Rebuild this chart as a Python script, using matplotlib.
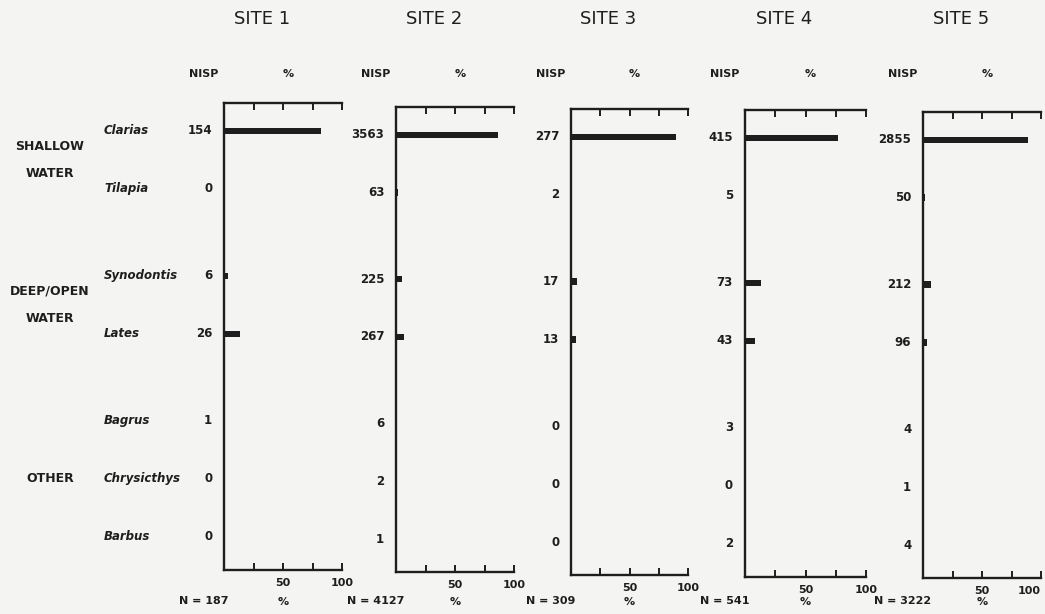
import numpy as np
import matplotlib.pyplot as plt
from matplotlib.transforms import blended_transform_factory


# fish taxa, grouped by habitat
species = ['Clarias', 'Tilapia', 'Synodontis', 'Lates', 'Bagrus', 'Chrysicthys', 'Barbus']
group_names = ['SHALLOW\nWATER', 'DEEP/OPEN\nWATER', 'OTHER']
group_sizes = [2, 2, 3]

site_names = ['SITE 1', 'SITE 2', 'SITE 3', 'SITE 4', 'SITE 5']

# NISP per taxon for each site (same order as species)
nisp_site1 = [154, 0, 6, 26, 1, 0, 0]
nisp_site2 = [3563, 63, 225, 267, 6, 2, 1]
nisp_site3 = [277, 2, 17, 13, 0, 0, 0]
nisp_site4 = [415, 5, 73, 43, 3, 0, 2]
nisp_site5 = [2855, 50, 212, 96, 4, 1, 4]
n_total = [187, 4127, 309, 541, 3222]

W, H = 1045, 614
ink = '#1e1e1e'
paper = '#f4f4f2'

# panel frames in pixels (left spine, 100 % end, top spine, bottom spine)
left_px = [224, 396, 571, 745, 923]
right_px = [342, 514, 688, 866, 1041]
top_px = [103, 107, 109, 110, 112]
bottom_px = [570, 572, 575, 577, 578]

# row positions: an extra half row between habitat groups
ypos = []
y = 0.0
for size in group_sizes:
    for k in range(size):
        ypos.append(y)
        y += 1
    y += 0.5
ypos = np.array(ypos)

fig = plt.figure(figsize=(W / 100, H / 100), dpi=100, facecolor=paper)

all_nisp = [nisp_site1, nisp_site2, nisp_site3, nisp_site4, nisp_site5]
axes = []
for i, (name, nisp, n) in enumerate(zip(site_names, all_nisp, n_total)):
    L, R, T, B = left_px[i], right_px[i], top_px[i], bottom_px[i]
    ax = fig.add_axes([L / W, 1 - B / H, (R - L) / W, (B - T) / H])
    ax.set_facecolor('none')
    pct = np.array(nisp) / n * 100
    ax.barh(ypos, pct, height=0.11, color=ink)
    ax.set_xlim(0, 100)
    ax.set_ylim(7.57, -0.48)

    ax.spines['right'].set_visible(False)
    for s in ['left', 'top', 'bottom']:
        ax.spines[s].set_linewidth(1.7)
        ax.spines[s].set_color(ink)
    ax.set_yticks([])
    ax.set_xticks([25, 50, 75, 100])
    ax.set_xticklabels(['', '50', '', '100'])
    ax.tick_params(axis='x', direction='in', top=True, bottom=True, length=5,
                   width=1.4, color=ink, labelsize=8, pad=6, labelcolor=ink)
    for lab in ax.get_xticklabels():
        lab.set_fontweight('bold')
    if i == len(site_names) - 1:
        # last panel sits at the page edge
        ax.get_xticklabels()[-1].set_horizontalalignment('right')

    # NISP counts left of the spine
    tr = blended_transform_factory(ax.transAxes, ax.transData)
    for yv, v in zip(ypos, nisp):
        ax.text(-0.1, yv, str(v), transform=tr, ha='right', va='center',
                fontsize=8.5, fontweight='bold', color=ink)

    # headers and footers
    fx = lambda frac: (L + frac * (R - L)) / W
    fig.text(fx(0.32), 1 - 19 / H, name, ha='center', va='center', fontsize=13, color=ink)
    fig.text(fx(-0.17), 1 - 74 / H, 'NISP', ha='center', va='center', fontsize=8,
             fontweight='bold', color=ink)
    fig.text(fx(0.54), 1 - 74 / H, '%', ha='center', va='center', fontsize=8,
             fontweight='bold', color=ink)
    fig.text(fx(-0.17), 1 - 601 / H, 'N = %d' % n, ha='center', va='center', fontsize=8,
             fontweight='bold', color=ink)
    fig.text(fx(0.5), 1 - 602 / H, '%', ha='center', va='center', fontsize=8,
             fontweight='bold', color=ink)
    axes.append(ax)

# species names and habitat groups, aligned to the rows of the first panel
tr0 = blended_transform_factory(fig.transFigure, axes[0].transData)
for yv, sp in zip(ypos, species):
    fig.text(104 / W, yv, sp, transform=tr0, ha='left', va='center', fontsize=8.5,
             fontweight='bold', style='italic', color=ink)

start = 0
for gname, size in zip(group_names, group_sizes):
    yc = ypos[start:start + size].mean()
    fig.text(50 / W, yc, gname, transform=tr0, ha='center', va='center', fontsize=9,
             fontweight='bold', color=ink, multialignment='center', linespacing=2.4)
    start += size

fig.savefig('out.png', dpi=100, facecolor=paper)
